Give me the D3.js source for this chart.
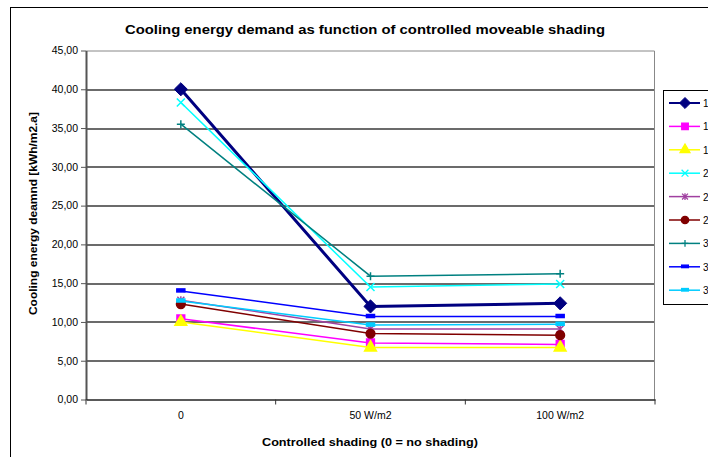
<!DOCTYPE html>
<html>
<head>
<meta charset="utf-8">
<script src="https://cdn.jsdelivr.net/npm/d3@7"></script>
<style>
  body { margin: 0; background: #fff; }
  svg { display: block; font-family: "Liberation Sans", Arial, sans-serif; }
</style>
</head>
<body>
<div id="chart-area"></div>
<script>
// Cooling energy demand per shading level
var categories = ["0", "50 W/m2", "100 W/m2"];
var seriesNames = ["1", "1", "1", "2", "2", "2", "3", "3", "3"];
var s1 = [40.0, 12.0, 12.4];
var s2 = [10.4, 7.3, 7.1];
var s3 = [10.0, 6.7, 6.7];
var s4 = [38.3, 14.5, 14.9];
var s5 = [12.8, 9.1, 9.1];
var s6 = [12.3, 8.5, 8.3];
var s7 = [35.5, 15.9, 16.2];
var s8 = [14.0, 10.7, 10.7];
var s9 = [12.7, 9.6, 9.7];
var yTicks = [0, 5, 10, 15, 20, 25, 30, 35, 40, 45];

var styles = [
  { color: "#000080", width: 3,   marker: "diamond",  size: 110 },
  { color: "#FF00FF", width: 1.5, marker: "square",   size: 60 },
  { color: "#FFFF00", width: 1.5, marker: "triangle", size: 60 },
  { color: "#00FFFF", width: 1.5, marker: "x" },
  { color: "#A040A0", width: 1.5, marker: "star" },
  { color: "#800000", width: 1.5, marker: "circle",   size: 60 },
  { color: "#008080", width: 1.5, marker: "plus" },
  { color: "#0000FF", width: 1.5, marker: "dash" },
  { color: "#00CCFF", width: 1.5, marker: "dash" }
];
var allSeries = [s1, s2, s3, s4, s5, s6, s7, s8, s9];

var W = 708, H = 457;
var margin = { left: 86, top: 50.5, right: 53, bottom: 57.5 };
var width = 655 - margin.left, height = 399.5 - margin.top;

var svg = d3.select("#chart-area").append("svg")
    .attr("width", W).attr("height", H);

// outer chart frame
svg.append("rect")
    .attr("x", 10.5).attr("y", 7.5)
    .attr("width", W + 10).attr("height", H + 10)
    .attr("fill", "none").attr("stroke", "#000").attr("stroke-width", 1);

svg.append("text")
    .attr("x", 125).attr("y", 34)
    .attr("textLength", 480).attr("lengthAdjust", "spacingAndGlyphs")
    .attr("font-size", "13.5px").attr("font-weight", "bold")
    .text("Cooling energy demand as function of controlled moveable shading");

var g = svg.append("g")
    .attr("transform", "translate(" + margin.left + "," + margin.top + ")");

var x = d3.scaleBand().domain(categories).range([0, width]);
var y = d3.scaleLinear().domain([0, 45]).range([height, 0]);
var xc = function(d) { return x(d) + x.bandwidth() / 2; };

// gridlines
g.selectAll(".grid").data(yTicks.slice(1, -1)).enter().append("line")
    .attr("x1", 0).attr("x2", width)
    .attr("y1", function(d) { return Math.round(y(d)) + 0.5; })
    .attr("y2", function(d) { return Math.round(y(d)) + 0.5; })
    .attr("stroke", "#3a3a3a").attr("stroke-width", 1.3);

// plot frame top/right
g.append("path")
    .attr("d", "M0,0.5H" + (width - 0.5) + "V" + height)
    .attr("fill", "none").attr("stroke", "#888").attr("stroke-width", 1);

// y axis
var yAxis = g.append("g")
    .call(d3.axisLeft(y).tickValues(yTicks).tickSize(5).tickSizeOuter(0)
        .tickFormat(function(d) { return d3.format(".2f")(d).replace(".", ","); }));
yAxis.select(".domain").attr("stroke", "#555").attr("stroke-width", 2);
yAxis.selectAll(".tick line").attr("stroke", "#555");
yAxis.selectAll("text").attr("font-size", "10.5px").attr("fill", "#000")
    .attr("font-family", "Liberation Sans, Arial, sans-serif");

// x axis
var xAxis = g.append("g")
    .attr("transform", "translate(0," + height + ")")
    .call(d3.axisBottom(x).tickSize(0).tickPadding(12));
xAxis.select(".domain").attr("stroke", "#222").attr("stroke-width", 1.5);
xAxis.selectAll("text").attr("font-size", "10.5px").attr("fill", "#000")
    .attr("font-family", "Liberation Sans, Arial, sans-serif");
g.selectAll(".xtick").data(d3.range(categories.length + 1)).enter().append("line")
    .attr("x1", function(i) { return i * x.bandwidth(); })
    .attr("x2", function(i) { return i * x.bandwidth(); })
    .attr("y1", height).attr("y2", height + 5)
    .attr("stroke", "#333");

// axis titles
svg.append("text")
    .attr("x", 262).attr("y", 446)
    .attr("textLength", 216).attr("lengthAdjust", "spacingAndGlyphs")
    .attr("font-size", "11.5px").attr("font-weight", "bold")
    .text("Controlled shading (0 = no shading)");
svg.append("text")
    .attr("transform", "translate(37,315) rotate(-90)")
    .attr("textLength", 203).attr("lengthAdjust", "spacingAndGlyphs")
    .attr("font-size", "11.5px").attr("font-weight", "bold")
    .text("Cooling energy deamnd [kWh/m2.a]");

function drawMarker(sel, st) {
  var m;
  if (st.marker === "diamond") m = sel.append("path").attr("d", d3.symbol(d3.symbolDiamond2 || d3.symbolDiamond, st.size)());
  else if (st.marker === "square") m = sel.append("path").attr("d", d3.symbol(d3.symbolSquare, st.size)());
  else if (st.marker === "triangle") m = sel.append("path").attr("d", d3.symbol(d3.symbolTriangle, st.size)());
  else if (st.marker === "circle") m = sel.append("path").attr("d", d3.symbol(d3.symbolCircle, st.size)());
  else if (st.marker === "x") m = sel.append("path").attr("d", "M-4,-4L4,4M-4,4L4,-4").attr("fill", "none");
  else if (st.marker === "plus") m = sel.append("path").attr("d", "M-4,0H4M0,-4V4").attr("fill", "none");
  else if (st.marker === "star") m = sel.append("path").attr("d", "M-3.5,-3.5L3.5,3.5M-3.5,3.5L3.5,-3.5M0,-4V4").attr("fill", "none");
  else if (st.marker === "dash") m = sel.append("rect").attr("x", -4).attr("y", -2).attr("width", 8).attr("height", 3);
  if (m.attr("fill") !== "none") m.attr("fill", st.color);
  m.attr("stroke", st.color).attr("stroke-width", st.marker === "diamond" ? 1 : 1.5);
  return m;
}

var line = d3.line()
    .x(function(d, i) { return xc(categories[i]); })
    .y(function(d) { return y(d); });

allSeries.forEach(function(data, k) {
  var st = styles[k];
  g.append("path")
      .attr("d", line(data))
      .attr("fill", "none")
      .attr("stroke", st.color)
      .attr("stroke-width", st.width);
  data.forEach(function(v, i) {
    var mg = g.append("g")
        .attr("transform", "translate(" + xc(categories[i]) + "," + y(v) + ")");
    drawMarker(mg, st);
  });
});

// legend (cut off by the window edge)
var legend = svg.append("g").attr("transform", "translate(663,90)");
legend.append("rect")
    .attr("x", 0.5).attr("y", 0.5).attr("width", 80).attr("height", 214)
    .attr("fill", "#fff").attr("stroke", "#000");
seriesNames.forEach(function(name, k) {
  var st = styles[k];
  var row = legend.append("g").attr("transform", "translate(0," + (13 + k * 23.4) + ")");
  row.append("line").attr("x1", 6).attr("x2", 37).attr("y1", 0).attr("y2", 0)
      .attr("stroke", st.color).attr("stroke-width", st.width === 3 ? 2 : 1.5);
  drawMarker(row.append("g").attr("transform", "translate(22,0) scale(0.85)"), st);
  row.append("text").attr("x", 40).attr("y", 4)
      .attr("font-size", "10px").text(name);
});
</script>
</body>
</html>
